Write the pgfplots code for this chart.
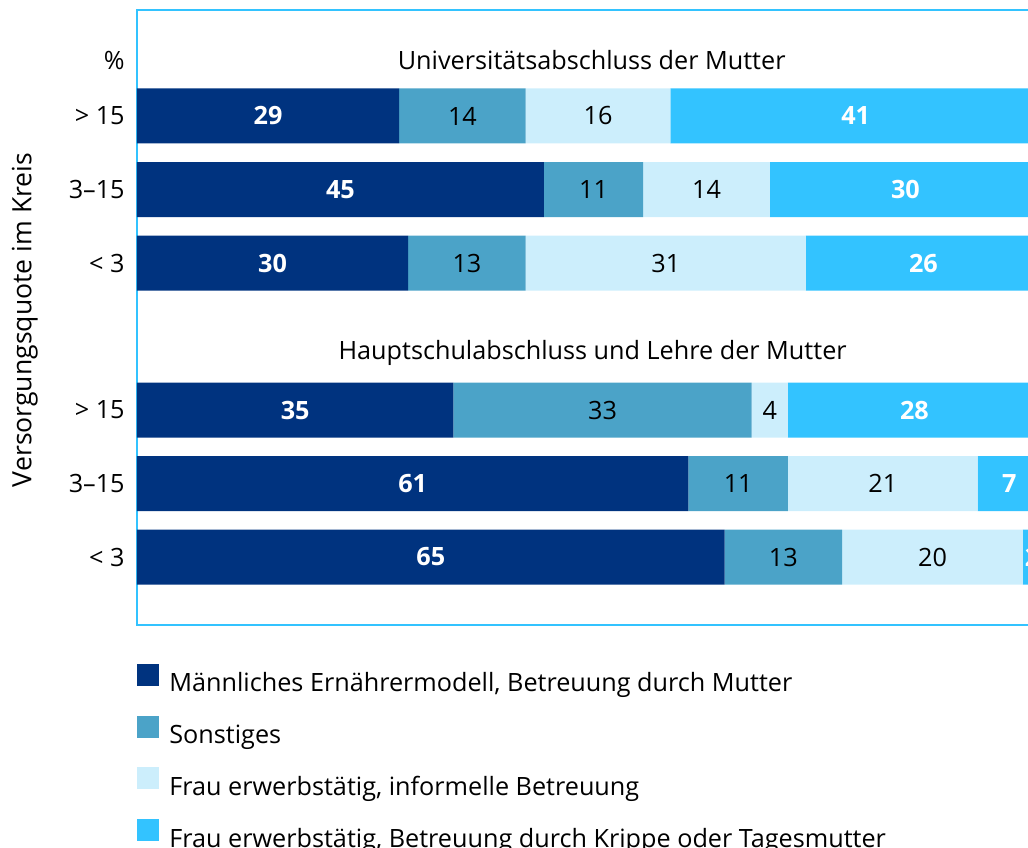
\documentclass[border=0pt]{standalone}
\usepackage{fontspec}
\setmainfont{Open Sans}
\usepackage{pgfplots}
\pgfplotsset{compat=1.18}
\definecolor{navy}{HTML}{00337F}
\definecolor{mid}{HTML}{4BA3C8}
\definecolor{pale}{HTML}{CCEEFC}
\definecolor{sky}{HTML}{33C3FF}
\newcommand\f{\fontsize{12.6pt}{15pt}\selectfont}
\begin{document}
\begin{tikzpicture}
\clip (0pt,0pt) rectangle (514pt,423.5pt);
\begin{axis}[
  at={(68.5pt,111pt)}, anchor=south west,
  scale only axis, width=452pt, height=307.5pt,
  xmin=0, xmax=100, ymin=0.075, ymax=8.442,
  xbar stacked, bar width=27.5pt,
  axis line style={sky, line width=1pt},
  xtick=\empty,
  ytick={1,2,3,5,6,7,7.76},
  yticklabels={< 3, 3–15, > 15, < 3, 3–15, > 15, \%},
  major tick length=0pt,
  yticklabel style={font=\f, inner sep=0pt, xshift=-6pt, anchor=east},
  ylabel={Versorgungsquote im Kreis},
  ylabel style={font=\fontsize{13.3pt}{15pt}\selectfont,
    at={(axis description cs:-0.124,0.496)}, anchor=center},
  /pgf/number format/assume math mode=true,
  point meta=rawx,
  nodes near coords={\pgfmathprintnumber{\pgfplotspointmeta}},
  nodes near coords align=center,
  nodes near coords style={anchor=center, font=\f},
  legend style={at={(axis description cs:0,-0.062)}, anchor=north west,
    draw=none, fill=none, inner sep=0pt, row sep=8.5pt, column sep=3pt,
    font=\f, cells={anchor=west}},
  legend image code/.code={\fill[#1] (0pt,-1pt) rectangle (11pt,10pt);},
]
\addplot[fill=navy, draw=none, nodes near coords style={text=white, font=\f\bfseries}]
  coordinates {(65,1) (61,2) (35,3) (30,5) (45,6) (29,7)};
\addplot[fill=mid, draw=none, nodes near coords style={text=black}]
  coordinates {(13,1) (11,2) (33,3) (13,5) (11,6) (14,7)};
\addplot[fill=pale, draw=none, nodes near coords style={text=black}]
  coordinates {(20,1) (21,2) (4,3) (31,5) (14,6) (16,7)};
\addplot[fill=sky, draw=none, nodes near coords style={text=white, font=\f\bfseries}]
  coordinates {(2,1) (7,2) (28,3) (26,5) (30,6) (41,7)};
\legend{{Männliches Ernährermodell, Betreuung durch Mutter}, Sonstiges,
  {Frau erwerbstätig, informelle Betreuung},
  {Frau erwerbstätig, Betreuung durch Krippe oder Tagesmutter}}
\node[font=\f] at (axis cs:50.3,7.76) {Universitätsabschluss der Mutter};
\node[font=\f] at (axis cs:50.4,3.78) {Hauptschulabschluss und Lehre der Mutter};
\end{axis}
\end{tikzpicture}
\end{document}
